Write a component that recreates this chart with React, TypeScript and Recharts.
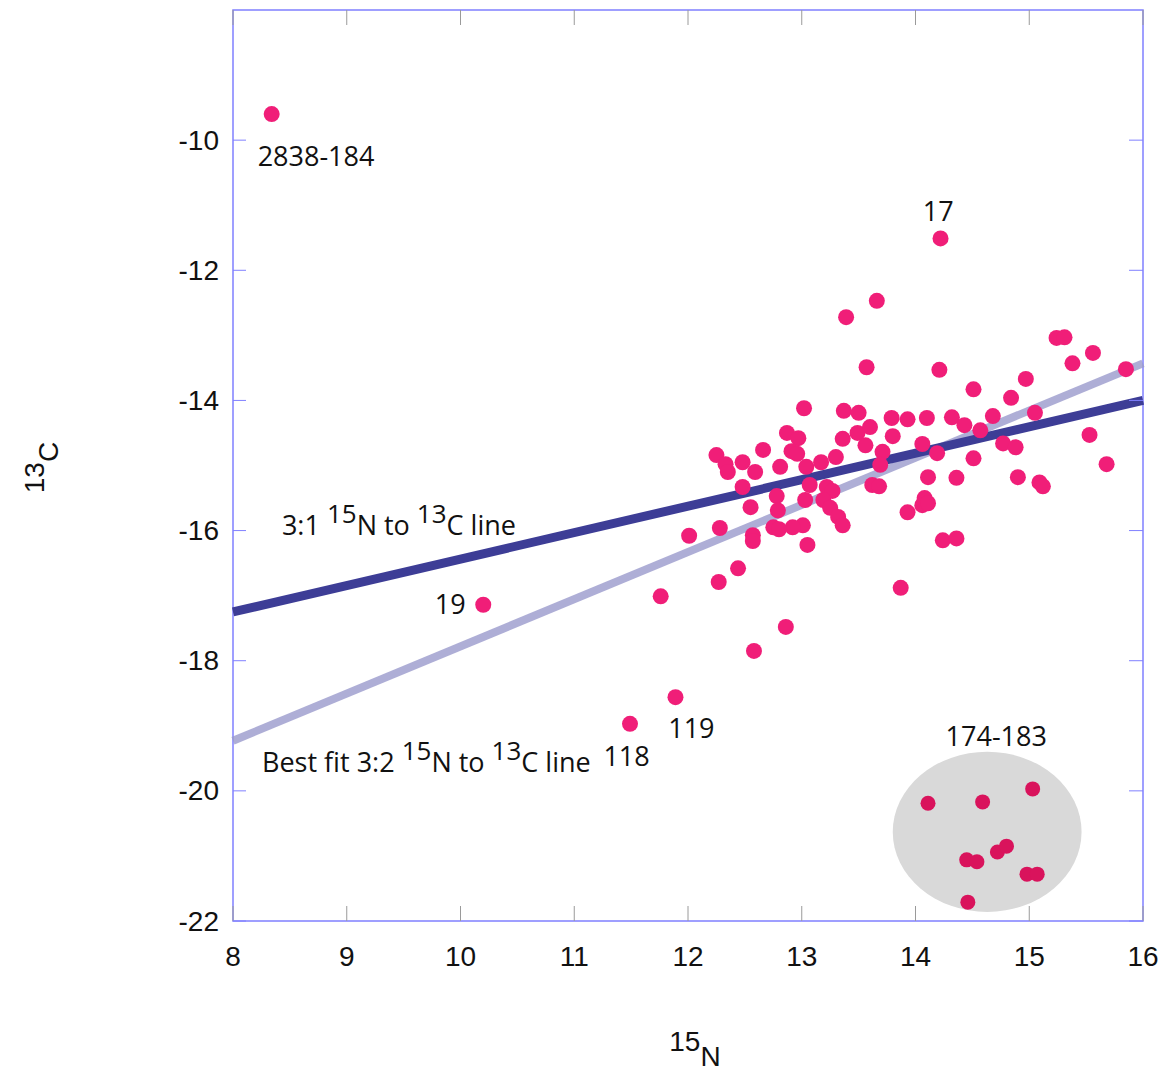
import React from "react";
import {
  ScatterChart,
  Scatter,
  XAxis,
  YAxis,
  ReferenceLine,
  ReferenceArea,
  ReferenceDot,
  Label,
} from "recharts";

// chart geometry (svg px)
const W = 1160;
const H = 1066;
const PLOT_W = 910;
const PLOT_H = 911;

const X_TICKS = [8, 9, 10, 11, 12, 13, 14, 15, 16];
const Y_TICKS = [-22, -20, -18, -16, -14, -12, -10];

// [15N, 13C]
const samples: [number, number][] = [
  [8.34, -9.6], [14.22, -11.51], [10.2, -17.14], [11.49, -18.97], [11.89, -18.56],
  [11.76, -17.01], [12.58, -17.85], [12.86, -17.48], [13.87, -16.88], [12.27, -16.79],
  [12.44, -16.58], [12.01, -16.08], [13.66, -12.47], [13.39, -12.72], [13.57, -13.49],
  [15.24, -13.04], [15.31, -13.03], [15.38, -13.43], [15.56, -13.27], [15.85, -13.52],
  [14.21, -13.53], [14.97, -13.67], [14.51, -13.83], [14.84, -13.96], [13.02, -14.12],
  [13.37, -14.16], [13.5, -14.19], [13.79, -14.27], [13.93, -14.29], [14.1, -14.27],
  [14.32, -14.26], [14.43, -14.38], [14.57, -14.46], [14.68, -14.24], [15.05, -14.19],
  [12.87, -14.5], [12.97, -14.58], [12.91, -14.78], [12.96, -14.82], [12.66, -14.76],
  [12.25, -14.84], [12.33, -14.98], [12.35, -15.1], [12.48, -14.95], [12.59, -15.1],
  [12.81, -15.02], [13.04, -15.02], [13.17, -14.95], [13.3, -14.87], [13.36, -14.59],
  [13.49, -14.5], [13.6, -14.41], [13.8, -14.55], [13.56, -14.69], [13.71, -14.79],
  [13.69, -14.99], [14.06, -14.67], [14.19, -14.81], [14.77, -14.66], [14.88, -14.72],
  [15.53, -14.53], [14.51, -14.89], [15.68, -14.98], [14.11, -15.18], [14.36, -15.19],
  [14.9, -15.18], [15.09, -15.26], [15.12, -15.32], [14.08, -15.5], [12.48, -15.33],
  [12.78, -15.47], [12.79, -15.69], [12.55, -15.64], [13.03, -15.53], [13.07, -15.3],
  [13.22, -15.33], [13.27, -15.39], [13.19, -15.53], [13.25, -15.65], [13.32, -15.79],
  [13.36, -15.92], [13.01, -15.92], [12.92, -15.95], [12.75, -15.95], [12.8, -15.98],
  [12.57, -16.07], [12.57, -16.16], [13.05, -16.22], [12.28, -15.96], [13.62, -15.3],
  [13.68, -15.32], [13.93, -15.72], [14.06, -15.61], [14.11, -15.58], [14.24, -16.15],
  [14.36, -16.12],
];

// samples 174-183
const cluster: [number, number][] = [
  [14.11, -20.19], [14.59, -20.17], [15.03, -19.97], [14.72, -20.94], [14.8, -20.85],
  [14.45, -21.06], [14.54, -21.09], [14.98, -21.28], [15.07, -21.28], [14.46, -21.71],
];

// grey ellipse bounds [x1, x2, y1, y2]
const clusterBounds = [13.8, 15.46, -21.86, -19.4];

// line endpoints
const ratioLine = [{ x: 8, y: -17.25 }, { x: 16, y: -14.0 }];
const bestFitLine = [{ x: 8, y: -19.23 }, { x: 16, y: -13.43 }];

type Part = { t: string; sup?: boolean };
type Note = { x: number; y: number; parts: Part[]; anchor: "start" | "middle" };

const notes: Note[] = [
  { x: 8.73, y: -10.23, parts: [{ t: "2838-184" }], anchor: "middle" },
  { x: 14.2, y: -11.08, parts: [{ t: "17" }], anchor: "middle" },
  { x: 9.91, y: -17.11, parts: [{ t: "19" }], anchor: "middle" },
  { x: 11.46, y: -19.45, parts: [{ t: "118" }], anchor: "middle" },
  { x: 12.03, y: -19.02, parts: [{ t: "119" }], anchor: "middle" },
  { x: 14.71, y: -19.14, parts: [{ t: "174-183" }], anchor: "middle" },
  {
    x: 8.43,
    y: -15.9,
    parts: [{ t: "3:1 " }, { t: "15", sup: true }, { t: "N to " }, { t: "13", sup: true }, { t: "C line" }],
    anchor: "start",
  },
  {
    x: 8.255,
    y: -19.54,
    parts: [
      { t: "Best fit 3:2 " },
      { t: "15", sup: true },
      { t: "N to " },
      { t: "13", sup: true },
      { t: "C line" },
    ],
    anchor: "start",
  },
];

const sampleRows = samples.map(([x, y]) => ({ x, y }));
const clusterRows = cluster.map(([x, y]) => ({ x, y }));

const TICK_FONT = "'Liberation Sans', Arial, sans-serif";
const NOTE_FONT = "'Open Sans', 'Noto Sans', sans-serif";

function XTick(props: any) {
  const { x, y, payload } = props;
  return (
    <g>
      <line x1={x} x2={x} y1={y} y2={y - 15} stroke="#9a9a9a" strokeWidth={1} />
      <line x1={x} x2={x} y1={y - PLOT_H} y2={y - PLOT_H + 15} stroke="#9a9a9a" strokeWidth={1} />
      <text x={x} y={y + 35} textAnchor="middle" dominantBaseline="central" fontSize={28} fontFamily={TICK_FONT} fill="#111">
        {payload.value}
      </text>
    </g>
  );
}

function YTick(props: any) {
  const { x, y, payload } = props;
  return (
    <g>
      <line x1={x} x2={x + 13} y1={y} y2={y} stroke="#8080ff" strokeWidth={1} />
      <line x1={x + PLOT_W} x2={x + PLOT_W - 14} y1={y} y2={y} stroke="#8080ff" strokeWidth={1} />
      <text x={x - 14} y={y} textAnchor="end" dominantBaseline="central" fontSize={28} fontFamily={TICK_FONT} fill="#111">
        {payload.value}
      </text>
    </g>
  );
}

function NoteText({ cx, cy, note }: { cx: number; cy: number; note: Note }) {
  let raised = false;
  return (
    <text x={cx} y={cy} textAnchor={note.anchor} dominantBaseline="central" fontSize={27} fontFamily={NOTE_FONT} fill="#111">
      {note.parts.map((p, i) => {
        let dy = 0;
        if (p.sup && !raised) dy = -11;
        if (!p.sup && raised) dy = 11;
        raised = !!p.sup;
        return (
          <tspan key={i} dy={dy} fontSize={p.sup ? 26 : 27}>
            {p.t}
          </tspan>
        );
      })}
    </text>
  );
}

function XLabel(props: any) {
  const { x, y, width } = props.viewBox;
  const cx = x + width / 2 + 7;
  return (
    <text x={cx} y={y + 145} textAnchor="middle" fontSize={28} fontFamily={TICK_FONT} fill="#111">
      <tspan dy={-15}>15</tspan>
      <tspan dy={15}>N</tspan>
    </text>
  );
}

function YLabel(props: any) {
  const { y, height } = props.viewBox;
  const cx = 36;
  const cy = y + height / 2 + 2;
  return (
    <text
      x={cx}
      y={cy}
      textAnchor="middle"
      fontSize={28}
      fontFamily={TICK_FONT}
      fill="#111"
      transform={`rotate(-90 ${cx} ${cy})`}
    >
      <tspan dy={0}>13</tspan>
      <tspan dy={14}>C</tspan>
    </text>
  );
}

export default function App() {
  return (
    <div style={{ width: W, height: H, background: "#fff" }}>
      <ScatterChart width={W} height={H} margin={{ top: 2, right: 25, left: 0, bottom: 0 }}>
        <XAxis
          type="number"
          dataKey="x"
          domain={[8, 16]}
          ticks={X_TICKS}
          allowDataOverflow
          height={153}
          axisLine={false}
          tickLine={false}
          tickSize={0}
          tickMargin={0}
          tick={<XTick />}
          interval={0}
        >
          <Label content={<XLabel />} />
        </XAxis>
        <YAxis
          type="number"
          dataKey="y"
          domain={[-22, -8]}
          ticks={Y_TICKS}
          allowDataOverflow
          width={225}
          axisLine={false}
          tickLine={false}
          tickSize={0}
          tickMargin={0}
          tick={<YTick />}
          interval={0}
        >
          <Label content={<YLabel />} />
        </YAxis>

        <ReferenceArea
          x1={clusterBounds[0]}
          x2={clusterBounds[1]}
          y1={clusterBounds[2]}
          y2={clusterBounds[3]}
          shape={(p: any) => (
            <ellipse
              cx={p.x + p.width / 2}
              cy={p.y + p.height / 2}
              rx={Math.abs(p.width) / 2}
              ry={Math.abs(p.height) / 2}
              fill="#d9d9d9"
            />
          )}
        />

        <Scatter
          data={sampleRows}
          isAnimationActive={false}
          shape={(p: any) => <circle cx={p.cx} cy={p.cy} r={8} fill="#f01e78" />}
        />
        <Scatter
          data={clusterRows}
          isAnimationActive={false}
          shape={(p: any) => <circle cx={p.cx} cy={p.cy} r={7.5} fill="#d9135c" />}
        />

        <ReferenceLine segment={bestFitLine} stroke="#9a9acc" strokeOpacity={0.8} strokeWidth={8} ifOverflow="visible" />
        <ReferenceLine segment={ratioLine} stroke="#3d3d96" strokeWidth={9} ifOverflow="visible" />

        {notes.map((n, i) => (
          <ReferenceDot
            key={i}
            x={n.x}
            y={n.y}
            r={0}
            ifOverflow="visible"
            shape={(p: any) => <NoteText cx={p.cx} cy={p.cy} note={n} />}
          />
        ))}

        <ReferenceArea x1={8} x2={16} y1={-22} y2={-8} fill="none" fillOpacity={0} stroke="#8080ff" strokeWidth={1.5} />
      </ScatterChart>
    </div>
  );
}
